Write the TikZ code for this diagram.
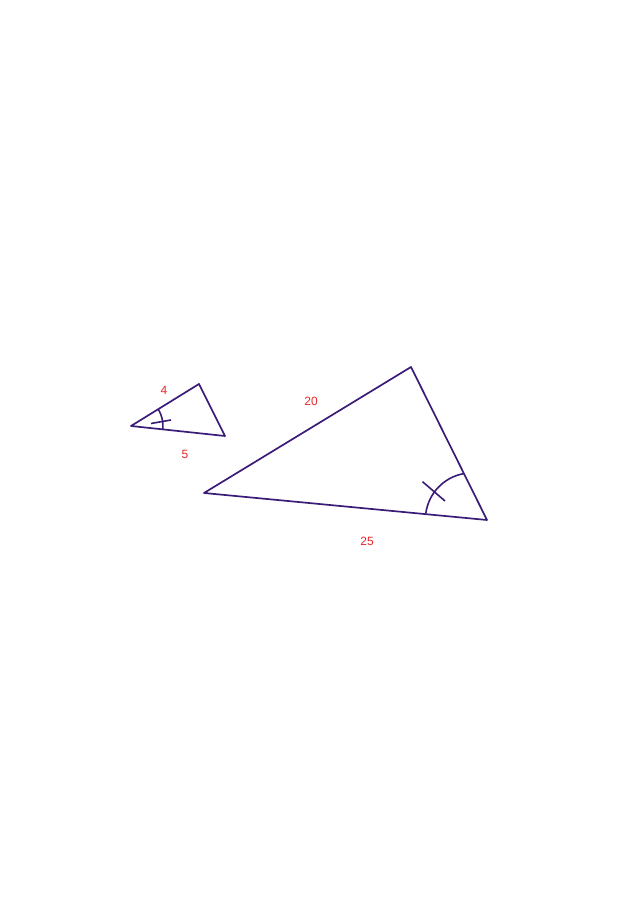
\documentclass[tikz,border=0pt]{standalone}
\usepackage{fontspec}
\setmainfont{Liberation Sans}
\definecolor{tri}{HTML}{3A1C78}
\definecolor{lab}{HTML}{E8252A}
\begin{document}
\begin{tikzpicture}[x=1pt,y=1pt,
  edge/.style={draw=tri,line width=1.7pt,line join=round},
  anglemark/.style={draw=tri,line width=1.6pt},
  lbl/.style={text=lab,font=\fontsize{12}{14}\selectfont,inner sep=0pt}]
\useasboundingbox (0,0) rectangle (640,907);
% small triangle
\coordinate (A) at (131,481);
\coordinate (B) at (199,523);
\coordinate (C) at (225,471);
\draw[edge] (A) -- (B) -- (C) -- cycle;
\draw[anglemark] (A) ++(-6:32) arc[start angle=-6,end angle=32,radius=32];
\coordinate (t1) at (151,483.5);
\coordinate (t2) at (171,487);
\draw[anglemark] (t1) -- (t2);
% large triangle
\coordinate (D) at (204,414);
\coordinate (E) at (411,540);
\coordinate (F) at (487,387);
\draw[edge] (D) -- (E) -- (F) -- cycle;
\coordinate (Fc) at (472,387.5);
\draw[anglemark] (Fc) ++(100:46.6) arc[start angle=100,end angle=172.5,radius=46.6];
\coordinate (t3) at (422.5,425.3);
\coordinate (t4) at (445,406);
\draw[anglemark] (t3) -- (t4);
% labels
\node[lbl] (l4) at (164,517) {4};
\node[lbl] (l5) at (185,453) {5};
\node[lbl] (l20) at (311,506) {20};
\node[lbl] (l25) at (367,366) {25};
\end{tikzpicture}
\end{document}
